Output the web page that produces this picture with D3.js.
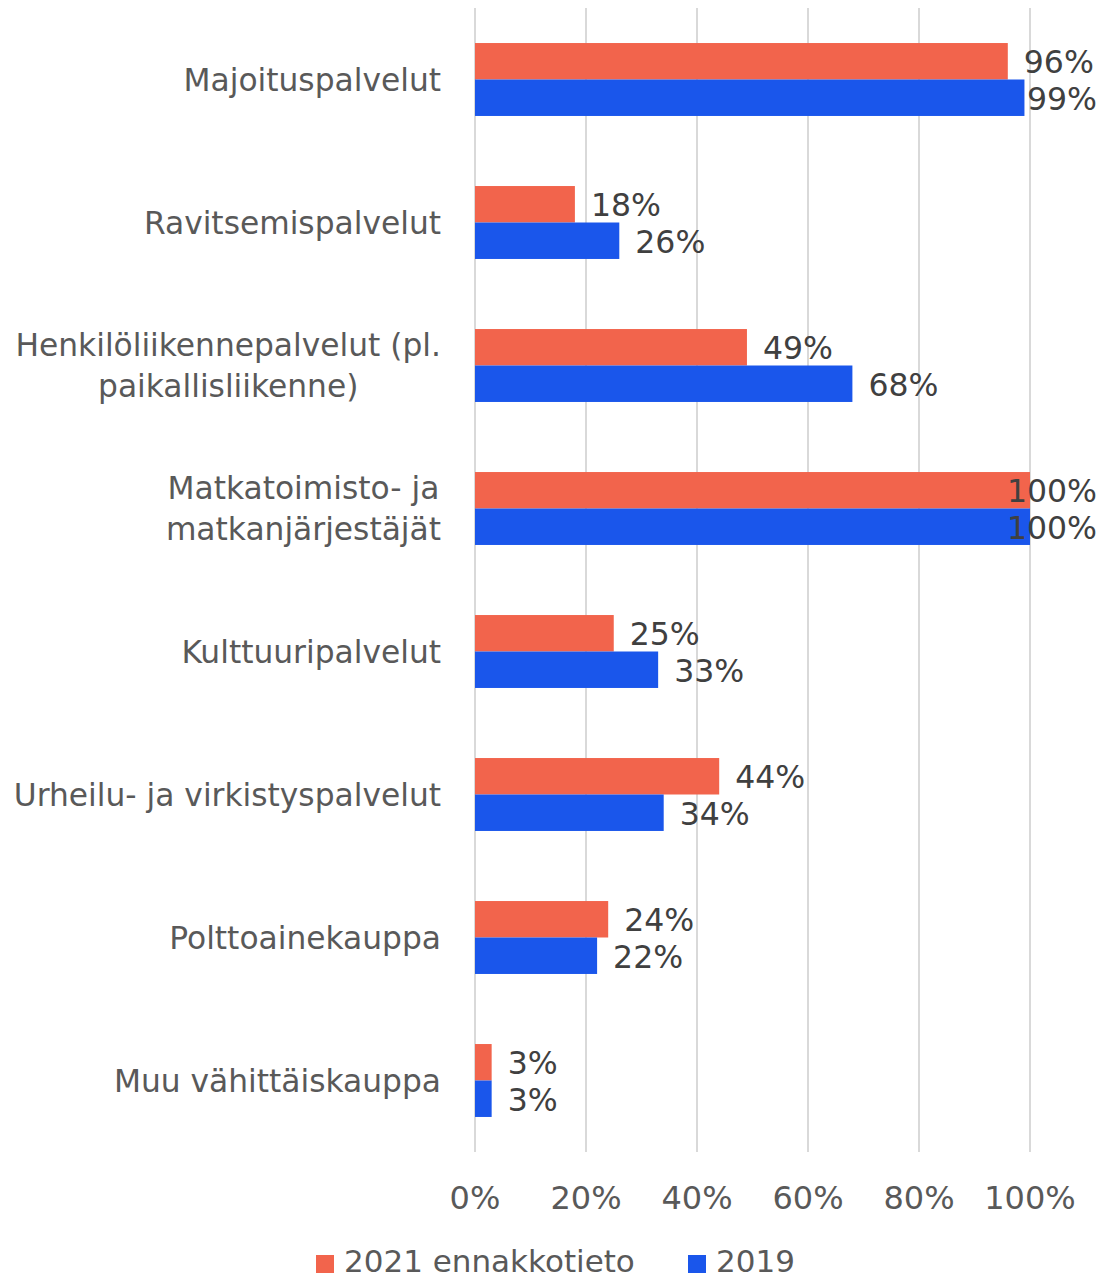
<!DOCTYPE html>
<html><head><meta charset="utf-8">
<script src="https://cdn.jsdelivr.net/npm/d3@7"></script>
<style>body{margin:0;background:#fff}svg{display:block}</style>
</head><body>
<script>
const categories = ["Majoituspalvelut","Ravitsemispalvelut","Henkilöliikennepalvelut (pl.\npaikallisliikenne)","Matkatoimisto- ja\nmatkanjärjestäjät","Kulttuuripalvelut","Urheilu- ja virkistyspalvelut","Polttoainekauppa","Muu vähittäiskauppa"];
const seriesNames = ["2021 ennakkotieto","2019"];
const values2021 = [96,18,49,100,25,44,24,3];
const values2019 = [99,26,68,100,33,34,22,3];
const xTicks = [0,20,40,60,80,100];
const colors = ["#F2644C","#1A56EB"];

const W=1104,H=1279;
const svg=d3.select("body").append("svg").attr("width",W).attr("height",H);
const font="DejaVu Sans";
const x=d3.scaleLinear().domain([0,100]).range([475,1030]);
const y=d3.scaleBand().domain(categories).range([8,1152]).paddingInner(0.49).paddingOuter(0.245);
const ys=d3.scaleBand().domain(seriesNames).range([0,y.bandwidth()]);

// gridlines
svg.append("g").selectAll("line").data(xTicks).join("line")
  .attr("x1",d=>x(d)).attr("x2",d=>x(d)).attr("y1",8).attr("y2",1152)
  .attr("stroke","#d9d9d9").attr("stroke-width",2);

// tick labels
svg.append("g").selectAll("text").data(xTicks).join("text")
  .attr("x",d=>x(d)).attr("y",1198).attr("text-anchor","middle").attr("dominant-baseline","central")
  .attr("font-family",font).attr("font-size",32).attr("fill","#595959").text(d=>d+"%");

const data=[values2021,values2019];
seriesNames.forEach((s,si)=>{
  const g=svg.append("g");
  g.selectAll("rect").data(categories).join("rect")
    .attr("x",x(0)).attr("y",c=>y(c)+ys(s)).attr("width",(c,i)=>x(data[si][i])-x(0)).attr("height",ys.bandwidth())
    .attr("fill",colors[si]);
  g.selectAll("text").data(categories).join("text")
    .attr("y",c=>y(c)+ys(s)+ys.bandwidth()/2+1).attr("dominant-baseline","central")
    .attr("font-family",font).attr("font-size",31.5).attr("fill","#404040")
    .text((c,i)=>data[si][i]+"%")
    .each(function(c,i){
      const w=this.getComputedTextLength();
      const xx=Math.min(x(data[si][i])+16,1097-w);
      d3.select(this).attr("x",xx);
    });
});

// category labels (multi-line labels centred within their block, block right-aligned)
const cg=svg.append("g");
categories.forEach(c=>{
  const lines=c.split("\n");
  const cy=y(c)+y.bandwidth()/2;
  const lh=41;
  const t=cg.append("text").attr("text-anchor","middle").attr("font-family",font).attr("font-size",31.3).attr("fill","#595959");
  const spans=lines.map((l,i)=>t.append("tspan").attr("y",cy+(i-(lines.length-1)/2)*lh).attr("dominant-baseline","central").text(l));
  const maxW=d3.max(spans,sp=>sp.node().getComputedTextLength());
  spans.forEach(sp=>sp.attr("x",441-maxW/2));
});

// legend
const lg=svg.append("g");
const legX=[316,688];
seriesNames.forEach((s,i)=>{
  lg.append("rect").attr("x",legX[i]).attr("y",1255).attr("width",18).attr("height",18).attr("fill",colors[i]);
  lg.append("text").attr("x",legX[i]+28).attr("y",1272)
    .attr("font-family",font).attr("font-size",31).attr("fill","#595959").text(s);
});
</script>
</body></html>
